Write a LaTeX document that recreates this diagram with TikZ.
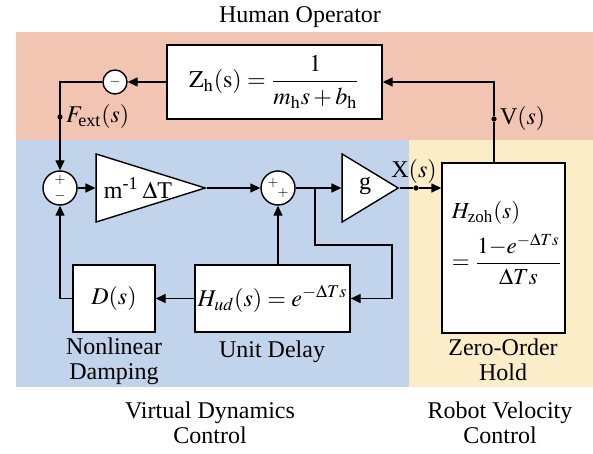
\documentclass[tikz,border=0pt]{standalone}
\usepackage{amsmath}
\usepackage{mathptmx}
\usepackage{fontspec}
\setmainfont{Liberation Serif}
\usetikzlibrary{arrows.meta,shapes.geometric,positioning}

\definecolor{humanbg}{RGB}{242,196,178}
\definecolor{virtbg}{RGB}{194,211,236}
\definecolor{robotbg}{RGB}{251,237,200}

\tikzset{
  block/.style={draw, fill=white, inner sep=0pt},
  sumnode/.style={draw, fill=white, circle, inner sep=0pt, minimum size=17pt},
  gain/.style={draw, fill=white, isosceles triangle, isosceles triangle stretches, inner sep=0pt},
  tap/.style={circle, fill, inner sep=0pt, minimum size=2.6pt},
  sig/.style={->},
  sgn/.style={font=\scriptsize, inner sep=0pt}
}

\begin{document}
\begin{tikzpicture}[x=0.5pt,y=-0.5pt,font=\fontsize{12}{12.5}\selectfont,
  >={Triangle[length=5pt,width=4.5pt]}, line width=0.7pt]
\useasboundingbox (0,0) rectangle (593,454);

% regions
\fill[humanbg] (16,32) rectangle (593,140);
\fill[virtbg] (16,140) rectangle (409,387);
\fill[robotbg] (409,140) rectangle (593,387);

% blocks
\node[block, minimum width=107.5pt, minimum height=37pt] (Zh) at (274.5,82)
  {$\mathrm{Z_h(s)} = \dfrac{1}{m_{\mathrm h}s + b_{\mathrm h}}$};
\node[sumnode, minimum size=12pt] (minus) at (115,82) {};
\node[sgn] at (minus) {$-$};

\node[sumnode] (sum) at (60,188) {};
\node[sgn] at ([yshift=3.8pt]sum.center) {$+$};
\node[sgn] at ([yshift=-3.8pt]sum.center) {$-$};

\node[gain, minimum height=54.5pt, minimum width=34pt, anchor=apex] (mtri) at (207,188) {};
\node (mtxt) at (138,188) {m\textsuperscript{-1}\,$\Delta$T};

\node[sumnode] (plus) at (278,188) {};
\node[sgn] at ([xshift=-2.5pt,yshift=2.5pt]plus.center) {$+$};
\node[sgn] at ([xshift=2.5pt,yshift=-2.5pt]plus.center) {$+$};

\node[gain, minimum height=28pt, minimum width=34pt, anchor=apex] (gtri) at (400,188) {};
\node (gtxt) at (365,186) {g};

\node[block, minimum width=61.5pt, minimum height=85pt] (zoh) at (503.5,248) {};
\node[font=\fontsize{11.5}{12}\selectfont] (zohtxt) at (507,243)
  {$\begin{array}{@{}l@{}} H_{\text{zoh}}(s)\\[4pt] =\dfrac{1{-}e^{-\Delta Ts}}{\Delta Ts}\end{array}$};

\node[block, minimum width=77.5pt, minimum height=33.5pt] (ud) at (272.5,298.5)
  {$H_{ud}(s) = e^{-\Delta Ts}$};
\node[block, minimum width=41pt, minimum height=33.5pt] (damp) at (114,298.5) {$D(s)$};

% taps and bends
\node[tap] (fext) at (60,117) {};
\node[anchor=west, inner sep=1pt] (fextlbl) at (fext.east) {$F_{\text{ext}}(s)$};
\node[tap] (xdot) at (416,188) {};
\node (xlbl) at (414,171) {X$(s)$};
\node[tap] (vdot) at (494,119) {};
\node[anchor=west, inner sep=1pt] (vlbl) at (vdot.east) {V$(s)$};
\coordinate (jn) at (315,188);
\coordinate (turn) at (392,245);

% signals
\draw[sig] (Zh.west) -- (minus.east);
\draw[sig] (minus.west) -| (sum.north);
\draw[sig] (sum.east) -- (sum.east -| mtri.west);
\draw[sig] (mtri.apex) -- (plus.west);
\draw (plus.east) -- (jn);
\draw[sig] (jn) -- (jn -| gtri.west);
\draw (gtri.apex) -- (xdot);
\draw[sig] (xdot) -- (xdot -| zoh.west);
\draw[sig] (jn) |- (turn) |- (ud.east);
\draw[sig] (ud.north -| plus.south) -- (plus.south);
\draw[sig] (ud.west) -- (damp.east);
\draw[sig] (damp.west) -| (sum.south);
\draw[sig] (zoh.north -| vdot) -- (vdot) |- (Zh.east);

% captions
\node (title) at (300,17) {Human Operator};
\node[align=center] (dampcap) at (114,361) {Nonlinear\\Damping};
\node (udcap) at (272,352) {Unit Delay};
\node[align=center] (zohcap) at (503,360) {Zero-Order\\Hold};
\node[align=center] (vdccap) at (210,423) {Virtual Dynamics\\Control};
\node[align=center] (rvccap) at (500,423) {Robot Velocity\\Control};
\end{tikzpicture}
\end{document}
